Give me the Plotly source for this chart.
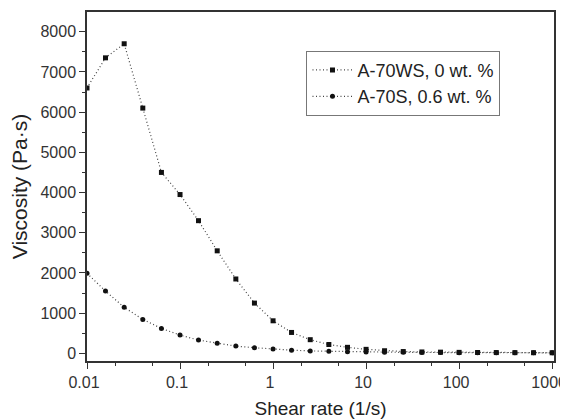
import plotly.graph_objects as go

shear_rate = [0.01, 0.0158, 0.0251, 0.0398, 0.0631, 0.1, 0.158, 0.251, 0.398, 0.631,
              1, 1.58, 2.51, 3.98, 6.31, 10, 15.8, 25.1, 39.8, 63.1,
              100, 158, 251, 398, 631, 1000]
visc_ws = [6600, 7350, 7700, 6100, 4500, 3950, 3300, 2550, 1850, 1250,
           810, 520, 340, 220, 150, 100, 65, 45, 35, 30,
           25, 22, 20, 18, 16, 15]
visc_s = [1990, 1550, 1145, 845, 620, 455, 330, 250, 180, 140,
          107, 80, 60, 50, 40, 32, 28, 25, 22, 20,
          18, 17, 16, 15, 14, 13]
names = ["A-70WS, 0 wt. %", "A-70S, 0.6 wt. %"]
x_ticks = [0.01, 0.1, 1, 10, 100, 1000]
x_ticktext = ["0.01", "0.1", "1", "10", "100", "1000"]
y_ticks = [0, 1000, 2000, 3000, 4000, 5000, 6000, 7000, 8000]

FONT = "Liberation Sans, Arial"
fig = go.Figure()
fig.add_trace(go.Scatter(x=shear_rate, y=visc_ws, name=names[0], mode="lines+markers",
                         line=dict(color="#444", width=1.2, dash="1px,2.5px"),
                         marker=dict(symbol="square", size=5, color="#111")))
fig.add_trace(go.Scatter(x=shear_rate, y=visc_s, name=names[1], mode="lines+markers",
                         line=dict(color="#444", width=1.2, dash="1px,2.5px"),
                         marker=dict(symbol="circle", size=5, color="#111")))

axis_common = dict(showgrid=False, zeroline=False, showline=True, linecolor="#333",
                   linewidth=1.5, mirror=True, ticks="outside", tickcolor="#333",
                   tickwidth=1.2, ticklen=6, automargin=False,
                   tickfont=dict(family=FONT, size=16, color="#333"))

fig.update_xaxes(type="log", range=[-2, 3.02], tickvals=x_ticks, ticktext=x_ticktext,
                 ticklabeloverflow="allow", ticklabelshift=-3,
                 minor=dict(ticks="outside", ticklen=3, tickcolor="#333", tickwidth=1.2),
                 title=dict(text="Shear rate (1/s)", standoff=12,
                            font=dict(family=FONT, size=19, color="#222")),
                 **axis_common)
fig.update_yaxes(range=[-190, 8490], tickvals=y_ticks,
                 minor=dict(ticks="outside", ticklen=3, tickcolor="#333", tickwidth=1.2, dtick=500),
                 title=dict(text="Viscosity (Pa·s)", standoff=10,
                            font=dict(family=FONT, size=21, color="#222")),
                 **axis_common)

# the page body has an 8px default margin; compensate so the plot area lands where the reference has it
fig.update_layout(
    width=560, height=411,
    margin=dict(l=79, r=14, t=4, b=58),
    paper_bgcolor="white", plot_bgcolor="white",
    showlegend=True,
    legend=dict(x=0.47, y=0.889, xanchor="left", yanchor="top",
                bgcolor="white", bordercolor="#777", borderwidth=1,
                font=dict(family=FONT, size=18, color="#222"),
                tracegroupgap=0, itemwidth=40),
)

fig.write_html("out.html")
